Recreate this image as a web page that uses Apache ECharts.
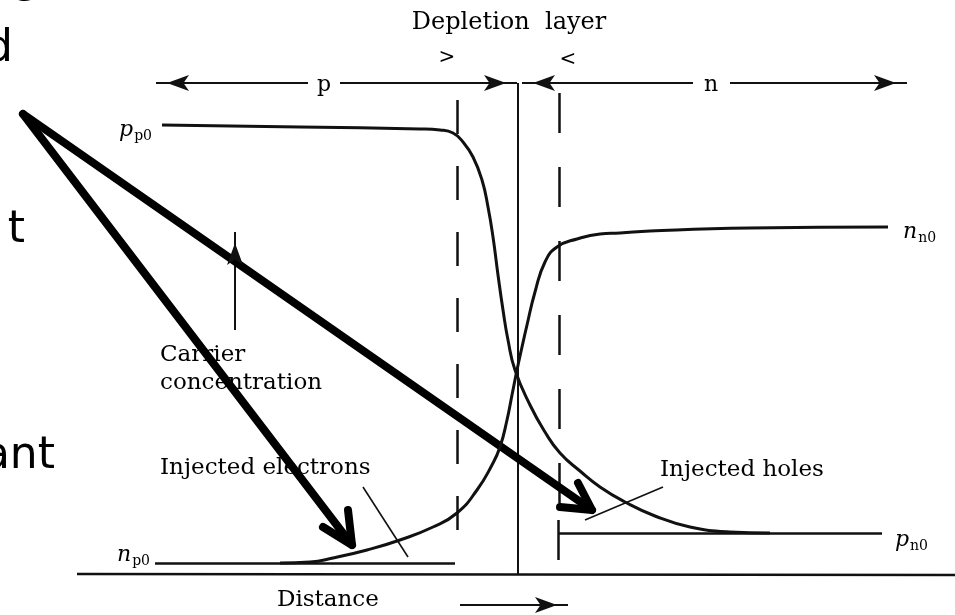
<!doctype html>
<html lang="en">
<head>
<meta charset="UTF-8">
<title>pn junction carrier concentration</title>
<style>
  html, body { margin: 0; padding: 0; background: #fff; }
  #chart { width: 955px; height: 615px; }
</style>
<script src="https://cdn.jsdelivr.net/npm/echarts@6/dist/echarts.min.js"></script>
</head>
<body>
<div id="chart"></div>
<script>
// x = distance from the junction, y = carrier concentration above the baseline (arbitrary units)
var xMin = -51.8, xMax = 43.7, yMin = -8.2, yMax = 114.8;

// hole concentration, p side (p_p0) falling to p_n0
var holes = [[-35.6, 89.8], [-21.8, 89.4], [-9.8, 89.0], [-7.8, 88.8], [-6.5, 88.2], [-5.5, 86.4],
  [-4.5, 83.4], [-3.6, 78.8], [-3.0, 73.4], [-2.5, 67.4], [-2.0, 59.8], [-1.5, 52.8], [-1.0, 46.8],
  [-0.3, 40.8], [1.2, 33.8], [2.7, 28.4], [4.2, 24.2], [6.2, 20.6], [8.2, 17.4], [10.7, 14.4],
  [13.7, 11.6], [17.2, 9.4], [21.2, 8.4], [25.2, 8.2]];

// electron concentration, n_p0 rising to n_n0
var electrons = [[-23.8, 2.2], [-20.8, 2.4], [-18.5, 3.2], [-15.1, 4.8], [-11.8, 6.8], [-8.5, 9.4],
  [-6.1, 12.2], [-4.1, 16.8], [-2.6, 21.8], [-1.8, 25.4], [-1.1, 30.8], [-0.6, 35.8], [-0.1, 40.8],
  [0.4, 45.4], [0.9, 49.8], [1.7, 56.4], [2.7, 62.4], [3.9, 65.4], [5.9, 67.0], [8.2, 68.0],
  [10.2, 68.2], [13.2, 68.6], [23.2, 69.2], [37.0, 69.4]];

// straight parts of the drawing
var baseLines = [[[-44.1, 0], [43.7, -0.2]], [[-36.3, 2.2], [-6.3, 2.2]], [[4.0, 8.2], [36.4, 8.2]], [[4.0, 10.8], [4.0, 2.8]]];
var junction = [[0, 98.2], [0, 0]];
var depletionLeft = [[-6.1, 94.8], [-6.1, 7.4]];
var depletionRight = [[4.1, 96.2], [4.1, 10.8]];
var arrows = [[[-21.0, 98.2], [-36.2, 98.2]], [[-17.8, 98.2], [-0.1, 98.2]], [[17.5, 98.2], [0.4, 98.2]],
  [[21.2, 98.2], [38.9, 98.2]], [[-28.3, 48.8], [-28.3, 68.4]], [[-5.8, -6.2], [5.0, -6.2]]];
var pointers = [[[-49.5, 92.0], [-16.6, 5.8]], [[-49.5, 92.0], [7.4, 12.8]]];
var pointerHeads = [[[-17.0, 12.8], [-16.6, 5.8], [-19.5, 9.4]], [[6.0, 18.2], [7.4, 12.8], [4.2, 13.4]]];
var leaders = [[[-15.5, 17.4], [-11.0, 3.4]], [[14.5, 17.4], [6.7, 10.8]]];

// texts
var centerTexts = ['Depletion  layer', '>', '<', 'p', 'n'];
var centerPos = [[-0.9, 110.2], [-7.1, 103.2], [5.0, 102.8], [-19.4, 97.8], [19.3, 97.8]];
var leftTexts = ['Carrier', 'concentration', 'Injected electrons', 'Injected holes', 'Distance'];
var leftPos = [[-35.8, 43.8], [-35.8, 38.2], [-35.8, 21.2], [14.2, 20.8], [-24.1, -5.2]];
var levelNames = [['p', 'p0'], ['n', 'n0'], ['n', 'p0'], ['p', 'n0']];
var levelPos = [[-36.6, 88.8], [38.5, 68.4], [-36.8, 3.8], [37.7, 6.8]];
var levelSide = ['left', 'right', 'left', 'right'];
var slideTexts = ['g', 'd', 't', 'ant'];
var slidePos = [[-50.6, 118.6], [-50.5, 104.8], [-49.3, 68.6], [-46.3, 23.4]];
var slideSide = ['right', 'left', 'left', 'left'];

var ink = '#111';
var serif = 'DejaVu Serif';
var chart = echarts.init(document.getElementById('chart'));

var pxX = 955 / (xMax - xMin), pxY = 615 / (yMax - yMin);
function headOf(seg, len) {
  var a = seg[0], b = seg[1];
  var dx = (b[0] - a[0]) * pxX, dy = (b[1] - a[1]) * pxY;
  var d = Math.sqrt(dx * dx + dy * dy);
  var ang = Math.atan2(dy, dx) * 180 / Math.PI;
  return {
    value: [b[0] - dx / d * len / 2 / pxX, b[1] - dy / d * len / 2 / pxY],
    symbolRotate: ang - 90
  };
}

function seg(list) {
  return list.map(function (c) { return { coords: c }; });
}

var textData = [];
centerTexts.forEach(function (t, i) {
  textData.push({ value: centerPos[i], label: { formatter: t, position: 'inside',
    fontSize: i === 0 ? 24 : (i < 3 ? 20 : 22) } });
});
leftTexts.forEach(function (t, i) {
  textData.push({ value: leftPos[i], label: { formatter: t, position: 'right', fontSize: 23 } });
});
levelNames.forEach(function (n, i) {
  textData.push({ value: levelPos[i], label: { formatter: '{i|' + n[0] + '}{s|' + n[1] + '}', position: levelSide[i] } });
});
slideTexts.forEach(function (t, i) {
  textData.push({ value: slidePos[i], label: { formatter: t, position: slideSide[i], fontSize: 44,
    fontFamily: "'Comic Sans MS', 'DejaVu Sans', sans-serif", color: '#000' } });
});

var option = {
  animation: false,
  backgroundColor: '#fff',
  grid: { left: 0, right: 0, top: 0, bottom: 0 },
  xAxis: { type: 'value', min: xMin, max: xMax, show: false },
  yAxis: { type: 'value', min: yMin, max: yMax, show: false },
  series: [
    { type: 'line', data: holes, smooth: 0.5, symbol: 'none',
      lineStyle: { color: ink, width: 3 } },
    { type: 'line', data: electrons, smooth: 0.5, symbol: 'none',
      lineStyle: { color: ink, width: 3 } },
    { type: 'lines', coordinateSystem: 'cartesian2d', data: seg(baseLines),
      lineStyle: { color: ink, width: 2.5, opacity: 1 } },
    { type: 'lines', coordinateSystem: 'cartesian2d', data: seg([junction]),
      lineStyle: { color: ink, width: 2, opacity: 1 } },
    { type: 'lines', coordinateSystem: 'cartesian2d', data: seg([depletionLeft]),
      lineStyle: { color: ink, width: 2.5, opacity: 1, type: [34, 32] } },
    { type: 'lines', coordinateSystem: 'cartesian2d', data: seg([depletionRight]),
      lineStyle: { color: ink, width: 2.5, opacity: 1, type: [40, 34] } },
    { type: 'lines', coordinateSystem: 'cartesian2d', data: seg(arrows),
      lineStyle: { color: ink, width: 2, opacity: 1 } },
    { type: 'scatter', symbol: 'arrow', symbolSize: [12, 22], itemStyle: { color: ink, opacity: 1 },
      data: arrows.map(function (s) { return headOf(s, 22); }) },
    { type: 'lines', coordinateSystem: 'cartesian2d', data: seg(leaders),
      lineStyle: { color: ink, width: 1.6, opacity: 1 } },
    { type: 'lines', coordinateSystem: 'cartesian2d', polyline: true,
      data: seg(pointers.concat(pointerHeads)),
      lineStyle: { color: '#000', width: 8, opacity: 1, cap: 'round', join: 'round' } },
    { type: 'scatter', symbolSize: 0, clip: false, silent: true, data: textData,
      itemStyle: { opacity: 1 },
      label: { show: true, distance: 0, color: '#000', fontFamily: serif, fontSize: 23,
        rich: {
          i: { fontFamily: serif, fontStyle: 'italic', fontSize: 22, color: '#000' },
          s: { fontFamily: serif, fontSize: 14, color: '#000', padding: [12, 0, 0, 1] }
        } } }
  ]
};
chart.setOption(option);
</script>
</body>
</html>
